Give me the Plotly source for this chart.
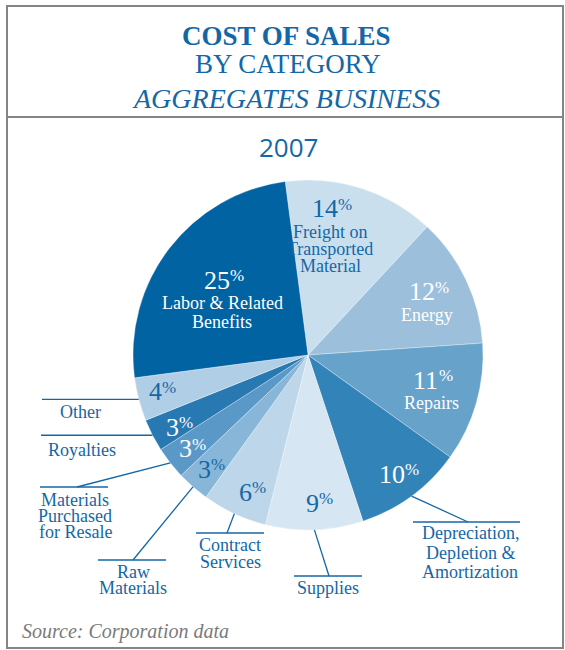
import math
import plotly.graph_objects as go

# ---- data -------------------------------------------------------------
categories = [
    "Freight on Transported Material",
    "Energy",
    "Repairs",
    "Depreciation, Depletion & Amortization",
    "Supplies",
    "Contract Services",
    "Raw Materials",
    "Materials Purchased for Resale",
    "Royalties",
    "Other",
    "Labor & Related Benefits",
]
shares = [14, 12, 11, 10, 9, 6, 3, 3, 3, 4, 25]
slice_colors = [
    "#CADFEE", "#9CC0DC", "#66A2CA", "#3283B8", "#D6E6F2", "#BDD6E9",
    "#88B6D8", "#5A99C7", "#2878B2", "#B0CFE6", "#0263A2",
]

# ---- page geometry (pixels, y downwards) --------------------------------
W, H = 565, 650
CX, CY, R = 308, 355, 175
ROTATION = -7.5
BLUE = "#1467A6"
SERIF = "Liberation Serif, Times New Roman, serif"
NUM_SIZE, PCT_SIZE = 26, 17


def px(x):
    return x / W


def py(y):
    return 1 - y / H


# slice mid angles, clockwise from 12 o'clock
total = sum(shares)
mid_angle = []
acc = ROTATION
for v in shares:
    mid_angle.append(acc + v / total * 180)
    acc += v / total * 360


def polar(angle, r):
    a = math.radians(angle)
    return CX + r * math.sin(a), CY - r * math.cos(a)


fig = go.Figure(go.Pie(
    values=shares,
    labels=categories,
    sort=False,
    direction="clockwise",
    rotation=ROTATION,
    marker=dict(colors=slice_colors, line=dict(color="rgba(255,255,255,0.55)", width=0.6)),
    textinfo="none",
    textposition="none",
    hoverinfo="label+percent",
    showlegend=False,
    domain=dict(x=[px(CX - R), px(CX + R)], y=[py(CY + R), py(CY - R)]),
))

annotations = []
shapes = []


def add_text(x, y, text, size, color, family=SERIF, anchor="center"):
    annotations.append(dict(
        x=px(x), y=py(y), xref="paper", yref="paper", text=text,
        showarrow=False, xanchor=anchor, yanchor="middle",
        font=dict(family=family, size=size, color=color),
    ))


def add_percent(x, y, v, color):
    # number followed by a small raised percent sign, centred on (x, y)
    digits = str(v)
    num_w = 0.5 * NUM_SIZE * len(digits)
    pct_w = 0.833 * PCT_SIZE
    left = x - (num_w + pct_w) / 2
    add_text(left, y, digits, NUM_SIZE, color, anchor="left")
    add_text(left + num_w, y - 4.5, "%", PCT_SIZE, color, anchor="left")


# labels inside the slices: (radius fraction, angle nudge, colour, name lines)
inside = {
    0: (0.845, -9.0, BLUE, ["Freight on", "Transported", "Material"]),
    1: (0.77, -2.4, "white", ["Energy"]),
    2: (0.72, -4.4, "white", ["Repairs"]),
    3: (0.85, -0.5, "white", []),
    4: (0.85, -1.7, BLUE, []),
    5: (0.85, -2.0, BLUE, []),
    6: (0.86, -0.4, BLUE, []),
    7: (0.86, -0.4, "white", []),
    8: (0.85, -1.7, "white", []),
    9: (0.87, 0.7, BLUE, []),
    10: (0.65, 3.6, "white", ["Labor & Related", "Benefits"]),
}
for i, (rf, nudge, col, lines) in inside.items():
    x, y = polar(mid_angle[i] + nudge, rf * R)
    add_percent(x, y, shares[i], col)
    step = 17 if i == 0 else 19
    for k, line in enumerate(lines):
        add_text(x, y + 23 + k * step, line, 18, col)

# labels outside the pie with leader lines
# (index, elbow point or None, horizontal rule x-range, rule y, text x, text lines, line ys)
outside = [
    (9, None, 42, None, 80, ["Other"], [412]),
    (8, None, 41, None, 82, ["Royalties"], [450]),
    (7, (77, 487), (40, 108), 487, 75, ["Materials", "Purchased", "for Resale"], [500, 516, 532]),
    (6, (133, 560), (98, 166), 560, 133, ["Raw", "Materials"], [572, 588]),
    (5, (227, 533), (196, 264), 533, 230, ["Contract", "Services"], [545, 562]),
    (4, (329, 576), (294, 362), 576, 328, ["Supplies"], [588]),
    (3, (468, 522), (413, 520), 522, 470, ["Depreciation,", "Depletion &", "Amortization"], [533, 553, 572]),
]
line_style = dict(color="#1467A6", width=1.3)
for i, elbow, hx, hy, tx, lines, ys in outside:
    rx, ry = polar(mid_angle[i], R)
    if elbow is None:
        shapes.append(dict(type="line", xref="paper", yref="paper",
                           x0=px(hx), x1=px(rx), y0=py(ry), y1=py(ry), line=line_style))
    else:
        shapes.append(dict(type="line", xref="paper", yref="paper",
                           x0=px(rx), y0=py(ry), x1=px(elbow[0]), y1=py(elbow[1]), line=line_style))
        shapes.append(dict(type="line", xref="paper", yref="paper",
                           x0=px(hx[0]), x1=px(hx[1]), y0=py(hy), y1=py(hy), line=line_style))
    for line, yy in zip(lines, ys):
        add_text(tx, yy, line, 18, BLUE)

# frame and title block
frame = dict(color="#858585", width=2)
shapes.append(dict(type="rect", xref="paper", yref="paper",
                   x0=px(7), x1=px(563), y0=py(648), y1=py(6), line=frame))
shapes.append(dict(type="line", xref="paper", yref="paper",
                   x0=px(7), x1=px(563), y0=py(117), y1=py(117), line=frame))

add_text(286, 36, "<b>COST OF SALES</b>", 27, BLUE)
add_text(288, 64, "BY CATEGORY", 27, BLUE)
add_text(286, 99, "<i>AGGREGATES BUSINESS</i>", 28, BLUE)
add_text(288, 147, "2007", 26, BLUE, family="Open Sans, Liberation Sans, sans-serif")

annotations.append(dict(
    x=px(20), y=py(631), xref="paper", yref="paper",
    text="<i>Source: Corporation data</i>", showarrow=False,
    xanchor="left", yanchor="middle",
    font=dict(family=SERIF, size=20, color="#7A7A7A"),
))

fig.update_layout(
    width=W, height=H, autosize=False,
    margin=dict(l=0, r=0, t=0, b=0),
    paper_bgcolor="white", plot_bgcolor="white",
    annotations=annotations, shapes=shapes,
)

fig.write_html("out.html")
